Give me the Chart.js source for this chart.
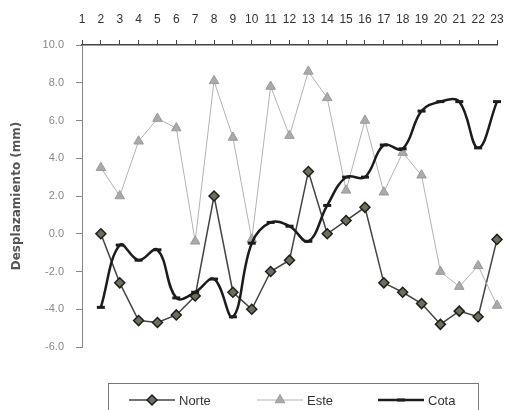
<!DOCTYPE html>
<html>
<head>
<meta charset="utf-8">
<title>Desplazamiento</title>
<script src="https://cdn.jsdelivr.net/npm/chart.js@4.4.1/dist/chart.umd.min.js"></script>
<style>
  html, body { margin: 0; padding: 0; background: #fff; }
</style>
</head>
<body>
<canvas id="chart" width="507" height="410"></canvas>
<script>
// categorías (la primera queda vacía, los datos empiezan en la 2)
const labels = ["1","2","3","4","5","6","7","8","9","10","11","12","13","14","15","16","17","18","19","20","21","22","23"]

// valores (mm)
const norte = [null, 0.0, -2.6, -4.6, -4.7, -4.3, -3.3, 2.0, -3.1, -4.0, -2.0, -1.4, 3.3, 0.0, 0.7, 1.4, -2.6, -3.1, -3.7, -4.8, -4.1, -4.4, -0.3]
const este  = [null, 3.5, 2.0, 4.9, 6.1, 5.6, -0.4, 8.1, 5.1, -0.3, 7.8, 5.2, 8.6, 7.2, 2.3, 6.0, 2.2, 4.3, 3.1, -2.0, -2.8, -1.7, -3.8]
const cota  = [null, -3.9, -0.6, -1.4, -0.85, -3.4, -3.1, -2.4, -4.4, -0.5, 0.6, 0.4, -0.4, 1.5, 3.0, 3.0, 4.7, 4.5, 6.5, 7.0, 7.0, 4.55, 7.0]

const yTicks = { min: -6, max: 10, step: 2 }

// leyenda con recuadro, como en el original
const legendBox = {
  id: "legendBox",
  afterDraw(chart) {
    const ctx = chart.ctx
    const H = Chart.helpers
    ctx.save()
    ctx.strokeStyle = "#777"
    ctx.lineWidth = 1
    ctx.strokeRect(108.5, 383.5, 370, 40)

    const starts = [129, 257, 378]
    const y = 400
    chart.data.datasets.forEach((ds, i) => {
      const x0 = starts[i]
      ctx.strokeStyle = ds.borderColor
      ctx.lineWidth = ds.borderWidth
      ctx.beginPath()
      ctx.moveTo(x0, y)
      ctx.lineTo(x0 + 46, y)
      ctx.stroke()

      ctx.fillStyle = ds.pointBackgroundColor
      ctx.strokeStyle = ds.pointBorderColor
      ctx.lineWidth = ds.pointBorderWidth
      H.drawPoint(ctx, {
        pointStyle: ds.pointStyle,
        radius: ds.pointRadius,
        borderWidth: ds.pointBorderWidth,
        rotation: 0
      }, x0 + 23, y)

      ctx.fillStyle = "#333"
      ctx.font = '13px "Liberation Sans"'
      ctx.textAlign = "left"
      ctx.textBaseline = "middle"
      ctx.fillText(ds.label, x0 + 50, y + 1)
    })
    ctx.restore()
  }
}

const ctx = document.getElementById("chart").getContext("2d")
const chart = new Chart(ctx, {
  type: "line",
  data: {
    labels: labels,
    datasets: [
      {
        label: "Norte",
        data: norte,
        borderColor: "#444",
        borderWidth: 1.5,
        pointStyle: "rectRot",
        pointRadius: 5,
        pointBackgroundColor: "#66735a",
        pointBorderColor: "#1e1e1e",
        pointBorderWidth: 1.5,
        tension: 0,
        order: 2
      },
      {
        label: "Este",
        data: este,
        borderColor: "#b3b3b3",
        borderWidth: 1,
        pointStyle: "triangle",
        pointRadius: 5.5,
        pointBackgroundColor: "#aaaaaa",
        pointBorderColor: "#9a9a9a",
        pointBorderWidth: 1,
        tension: 0,
        order: 1
      },
      {
        label: "Cota",
        data: cota,
        borderColor: "#1c1c1c",
        borderWidth: 2.5,
        pointStyle: "line",
        pointRadius: 4,
        pointBackgroundColor: "#1c1c1c",
        pointBorderColor: "#1c1c1c",
        pointBorderWidth: 3,
        tension: 0.4,
        order: 0
      }
    ]
  },
  options: {
    responsive: false,
    animation: false,
    layout: { padding: { left: 0, right: 10, top: 0, bottom: 63 } },
    plugins: {
      legend: { display: false },
      tooltip: { enabled: false }
    },
    scales: {
      x: {
        position: "top",
        offset: false,
        grid: { drawOnChartArea: false, tickLength: 5, color: "#444" },
        border: { color: "#444", width: 1.5 },
        ticks: {
          autoSkip: false,
          maxRotation: 0,
          padding: 13,
          color: "#333",
          font: { family: "Liberation Sans", size: 12 }
        },
        afterFit: s => {
          s.height = 45
          s.paddingLeft = 0
          s.paddingRight = 0
        }
      },
      y: {
        min: yTicks.min,
        max: yTicks.max,
        grid: { drawOnChartArea: false, tickLength: 6, color: "#888" },
        border: { color: "#888" },
        ticks: {
          stepSize: yTicks.step,
          padding: 12,
          color: "#888",
          font: { family: "Liberation Sans", size: 11 },
          callback: v => v.toFixed(1)
        },
        title: {
          display: true,
          text: "Desplazamiento (mm)",
          color: "#555",
          padding: { top: 10, bottom: 0 },
          font: { family: "DejaVu Sans", size: 12, weight: "bold" }
        },
        afterFit: s => { s.width = 82 }
      }
    }
  },
  plugins: [legendBox]
})
</script>
</body>
</html>
